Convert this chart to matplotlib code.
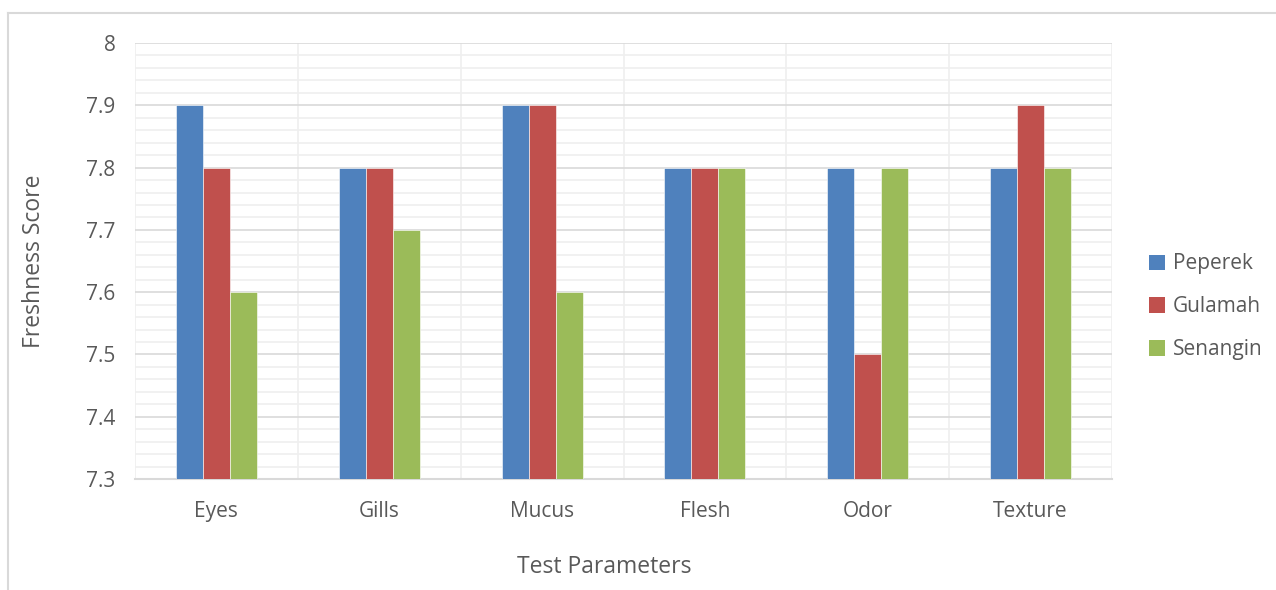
import numpy as np
import matplotlib.pyplot as plt
from matplotlib.lines import Line2D
from matplotlib.patches import Patch

plt.rcParams['font.family'] = ['Open Sans', 'DejaVu Sans']

params = ['Eyes', 'Gills', 'Mucus', 'Flesh', 'Odor', 'Texture']
peperek = [7.9, 7.8, 7.9, 7.8, 7.8, 7.8]
gulamah = [7.8, 7.8, 7.9, 7.8, 7.5, 7.9]
senangin = [7.6, 7.7, 7.6, 7.8, 7.8, 7.8]
series = ['Peperek', 'Gulamah', 'Senangin']
colors = ['#4F81BD', '#C0504D', '#9BBB59']

txt = '#595959'
fig = plt.figure(figsize=(12.76, 5.90), dpi=100)
ax = fig.add_axes([0.1058, 0.1881, 0.7657, 0.739])

x = np.arange(len(params))
w = 0.166
base = 7.3
for i, (vals, c, name) in enumerate(zip([peperek, gulamah, senangin], colors, series)):
    ax.bar(x + (i - 1) * w, np.array(vals) - base, w, bottom=base, color=c,
           edgecolor='white', linewidth=0.4, label=name, zorder=3)

ax.set_xlim(-0.5, len(params) - 0.5)
ax.set_ylim(7.3, 8.0)
ax.set_yticks(np.arange(7.3, 8.01, 0.1))
ax.set_yticklabels(['7.3', '7.4', '7.5', '7.6', '7.7', '7.8', '7.9', '8'])
ax.set_yticks(np.arange(7.3, 8.0, 0.02), minor=True)
ax.set_xticks(x)
ax.set_xticklabels(params)
ax.set_xticks(np.arange(-0.5, len(params), 0.5), minor=True)

ax.grid(which='minor', axis='both', color='#EFEFEF', linewidth=1.2, zorder=0)
ax.grid(which='major', axis='y', color='#D9D9D9', linewidth=1.2, zorder=1)
ax.tick_params(which='both', length=0, labelsize=15, colors=txt)
ax.tick_params(axis='x', pad=16)
ax.tick_params(axis='y', pad=14)
for s in ['top', 'right', 'left']:
    ax.spines[s].set_visible(False)
ax.spines['bottom'].set_color('#D9D9D9')
ax.spines['bottom'].set_linewidth(1.5)

ax.set_ylabel('Freshness Score', fontsize=16.5, color=txt)
ax.set_xlabel('Test Parameters', fontsize=16.5, color=txt)
ax.yaxis.set_label_coords(-0.091, 0.5)
ax.xaxis.set_label_coords(0.48, -0.175)

handles = [Patch(facecolor=c, label=n) for c, n in zip(colors, series)]
fig.legend(handles=handles, loc='center left', bbox_to_anchor=(0.886, 0.48),
           frameon=False, fontsize=15, labelcolor=txt, handlelength=0.75,
           handleheight=0.75, handletextpad=0.4, labelspacing=1.05)

# chart frame
fig.add_artist(Line2D([8 / 1276, 1], [1 - 13 / 590] * 2, color='#D9D9D9', lw=1.5))
fig.add_artist(Line2D([8 / 1276] * 2, [0, 1 - 13 / 590], color='#D9D9D9', lw=1.5))

fig.savefig('out.png', dpi=100)
